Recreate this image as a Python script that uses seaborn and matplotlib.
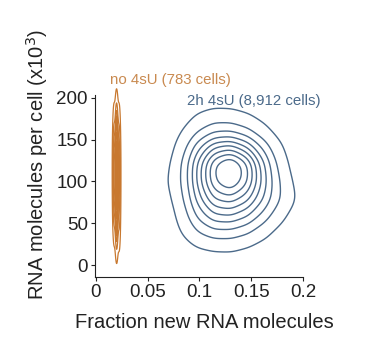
import numpy as np
import pandas as pd
import matplotlib
matplotlib.use("Agg")
import matplotlib.pyplot as plt
import seaborn as sns

# ---- data: binned cell counts (rows = RNA molecules per cell bin, cols = fraction-new bin)
blue_x = [0.070, 0.085, 0.100, 0.115, 0.130, 0.145, 0.160, 0.175, 0.190]
blue_y = [180, 160, 140, 120, 100, 80, 60, 40, 20]
blue_counts = [
    [0, 4, 13, 19, 18, 12, 6, 2, 0],
    [2, 12, 30, 45, 45, 35, 18, 6, 1],
    [4, 24, 70, 115, 125, 95, 50, 18, 3],
    [8, 35, 105, 190, 230, 175, 85, 28, 6],
    [12, 35, 105, 185, 215, 170, 90, 36, 10],
    [7, 30, 88, 140, 150, 125, 78, 38, 16],
    [3, 22, 62, 92, 95, 78, 48, 22, 6],
    [2, 14, 34, 46, 45, 36, 20, 7, 1],
    [0, 4, 10, 13, 14, 9, 4, 1, 0],
]

orange_x = [0.0175, 0.020, 0.0225]
orange_y = [200, 180, 160, 140, 120, 100, 80, 60, 40, 20]
orange_counts = [
    [1, 2, 1],
    [4, 12, 4],
    [10, 30, 10],
    [18, 50, 16],
    [22, 60, 20],
    [22, 62, 20],
    [18, 52, 16],
    [12, 36, 12],
    [5, 18, 8],
    [1, 5, 2],
]

x_ticks = [0, 0.05, 0.1, 0.15, 0.2]
x_tick_labels = ["0", "0.05", "0.1", "0.15", "0.2"]
y_ticks = [0, 50, 100, 150, 200]

label_orange = "no 4sU (783 cells)"
label_blue = "2h 4sU (8,912 cells)"

col_orange = "#C8782F"
col_blue = "#4B6A8A"


def to_frame(xs, ys, counts):
    rows = []
    for yi, row in zip(ys, counts):
        for xi, c in zip(xs, row):
            if c > 0:
                rows.append((xi, yi, c))
    return pd.DataFrame(rows, columns=["x", "y", "w"])


df_b = to_frame(blue_x, blue_y, blue_counts)
df_o = to_frame(orange_x, orange_y, orange_counts)

sns.set_style("ticks")
plt.rcParams["font.family"] = ["Liberation Sans", "DejaVu Sans"]

fig = plt.figure(figsize=(3.81, 3.55), dpi=100)
ax = fig.add_axes([0.249, 0.22, 0.546, 0.512])

sns.kdeplot(data=df_b, x="x", y="y", weights="w", ax=ax, color=col_blue,
            levels=10, thresh=0.05, bw_adjust=0.65, linewidths=1.0)
sns.kdeplot(data=df_o, x="x", y="y", weights="w", ax=ax, color=col_orange,
            levels=10, thresh=0.05, bw_adjust=0.9, linewidths=0.9)
for coll in ax.collections:
    coll.set_clip_on(False)

ax.set_xlim(-0.001, 0.2)
ax.set_ylim(-14, 203)
ax.set_xticks(x_ticks)
ax.set_xticklabels(x_tick_labels)
ax.set_yticks(y_ticks)
ax.tick_params(labelsize=13.5, length=3, width=0.8, pad=2, colors="#222222")
for s in ["left", "bottom"]:
    ax.spines[s].set_linewidth(0.8)
    ax.spines[s].set_color("#222222")
sns.despine(ax=ax)

ax.set_xlabel("Fraction new RNA molecules", fontsize=14.5, color="#222222")
ax.set_ylabel("RNA molecules per cell (x10$^3$)", fontsize=14.5, color="#222222")
ax.xaxis.set_label_coords(0.526, -0.2)
ax.yaxis.set_label_coords(-0.215, 0.62)

ax.text(0.0135, 213, label_orange, color="#C98A50", fontsize=10.8, ha="left", va="bottom")
ax.text(0.0885, 188, label_blue, color=col_blue, fontsize=10.8, ha="left", va="bottom")

fig.savefig("out.png", dpi=100)
